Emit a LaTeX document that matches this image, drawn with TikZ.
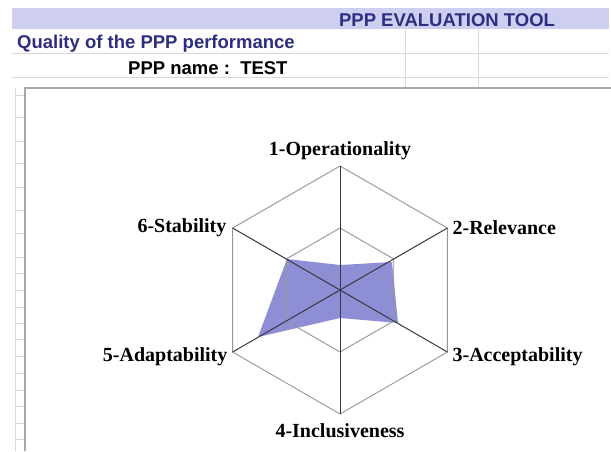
\documentclass[tikz,border=0pt]{standalone}
\usepackage{fontspec}
\setmainfont{Liberation Serif}
\newfontfamily\sheetfont{Liberation Sans}
\usetikzlibrary{positioning}

\definecolor{bandblue}{RGB}{206,206,240}
\definecolor{headnavy}{RGB}{46,46,128}
\definecolor{cellgrid}{RGB}{218,218,218}
\definecolor{framegray}{RGB}{168,168,168}
\definecolor{webgray}{RGB}{150,150,150}
\definecolor{axisdark}{RGB}{55,55,70}
\definecolor{scorefill}{RGB}{142,142,212}

\begin{document}
\begin{tikzpicture}[x=1pt, y=-1pt]
        \tikzstyle{sheettext} = [font=\sheetfont\bfseries\fontsize{18.5}{22}\selectfont, inner sep=0pt];
        \tikzstyle{axislabel} = [font=\bfseries\fontsize{20}{24}\selectfont, inner sep=2pt];
        \tikzstyle{web} = [draw=webgray, line width=0.9pt];
        \tikzstyle{spoke} = [draw=axisdark, line width=1pt];

        \useasboundingbox (0,0) rectangle (611,451);
        \fill[white] (0,0) rectangle (611,451);

        % sheet header rows
        \fill[bandblue] (12,8) rectangle (609,29);
        \draw[cellgrid, line width=0.8pt] (12,53) -- (609,53);
        \draw[cellgrid, line width=0.8pt] (12,77) -- (609,77);
        \draw[cellgrid, line width=0.8pt] (405,29) -- (405,88);
        \draw[cellgrid, line width=0.8pt] (478,29) -- (478,88);

        \node(tooltitle)[sheettext, text=headnavy, anchor=base] at (447,26) {PPP EVALUATION TOOL};
        \node(quality)[sheettext, text=headnavy, anchor=base west] at (17,48) {Quality of the PPP performance};
        \node(pppname)[sheettext, anchor=base west] at (128,74) {PPP name :\ \ TEST};

        % row marks on the left
        \draw[cellgrid, line width=0.8pt] (15,88) -- (15,451);
        \foreach \ty in {95,117,141,163,187,210,233,257,273,290,307,323,339,356,373,390,406,423,439}
            \draw[cellgrid, line width=0.8pt] (15,\ty) -- (25,\ty);

        % chart frame
        \draw[framegray, line width=1.2pt] (611,88) -- (25,88) -- (25,451);

        % radar
        \coordinate(ctr) at (340,290);
        \coordinate(v1) at (340,166);
        \coordinate(v2) at (447.4,228);
        \coordinate(v3) at (447.4,352);
        \coordinate(v4) at (340,414);
        \coordinate(v5) at (232.6,352);
        \coordinate(v6) at (232.6,228);

        \coordinate(h1) at (340,228);
        \coordinate(h2) at (393.7,259);
        \coordinate(h3) at (393.7,321);
        \coordinate(h4) at (340,352);
        \coordinate(h5) at (286.3,321);
        \coordinate(h6) at (286.3,259);

        \fill[scorefill] (340,265) -- (392,262) -- (398,323) -- (340,318) -- (258,337) -- (287,259) -- cycle;

        \draw[web] (v1) -- (v2) -- (v3) -- (v4) -- (v5) -- (v6) -- cycle;
        \draw[web] (h1) -- (h2) -- (h3) -- (h4) -- (h5) -- (h6) -- cycle;

        \draw[spoke] (v1) -- (v4);
        \draw[spoke] (v2) -- (v5);
        \draw[spoke] (v3) -- (v6);

        \node(oper)[axislabel, above=3.7pt of v1]{1-Operationality};
        \node(relev)[axislabel, right=3pt of v2]{2-Relevance};
        \node(accept)[axislabel, right=3pt of v3, yshift=-5pt]{3-Acceptability};
        \node(inclus)[axislabel, below=7pt of v4]{4-Inclusiveness};
        \node(adapt)[axislabel, left=3pt of v5, yshift=-5pt]{5-Adaptability};
        \node(stab)[axislabel, left=4pt of v6]{6-Stability};
    \end{tikzpicture}
\end{document}
